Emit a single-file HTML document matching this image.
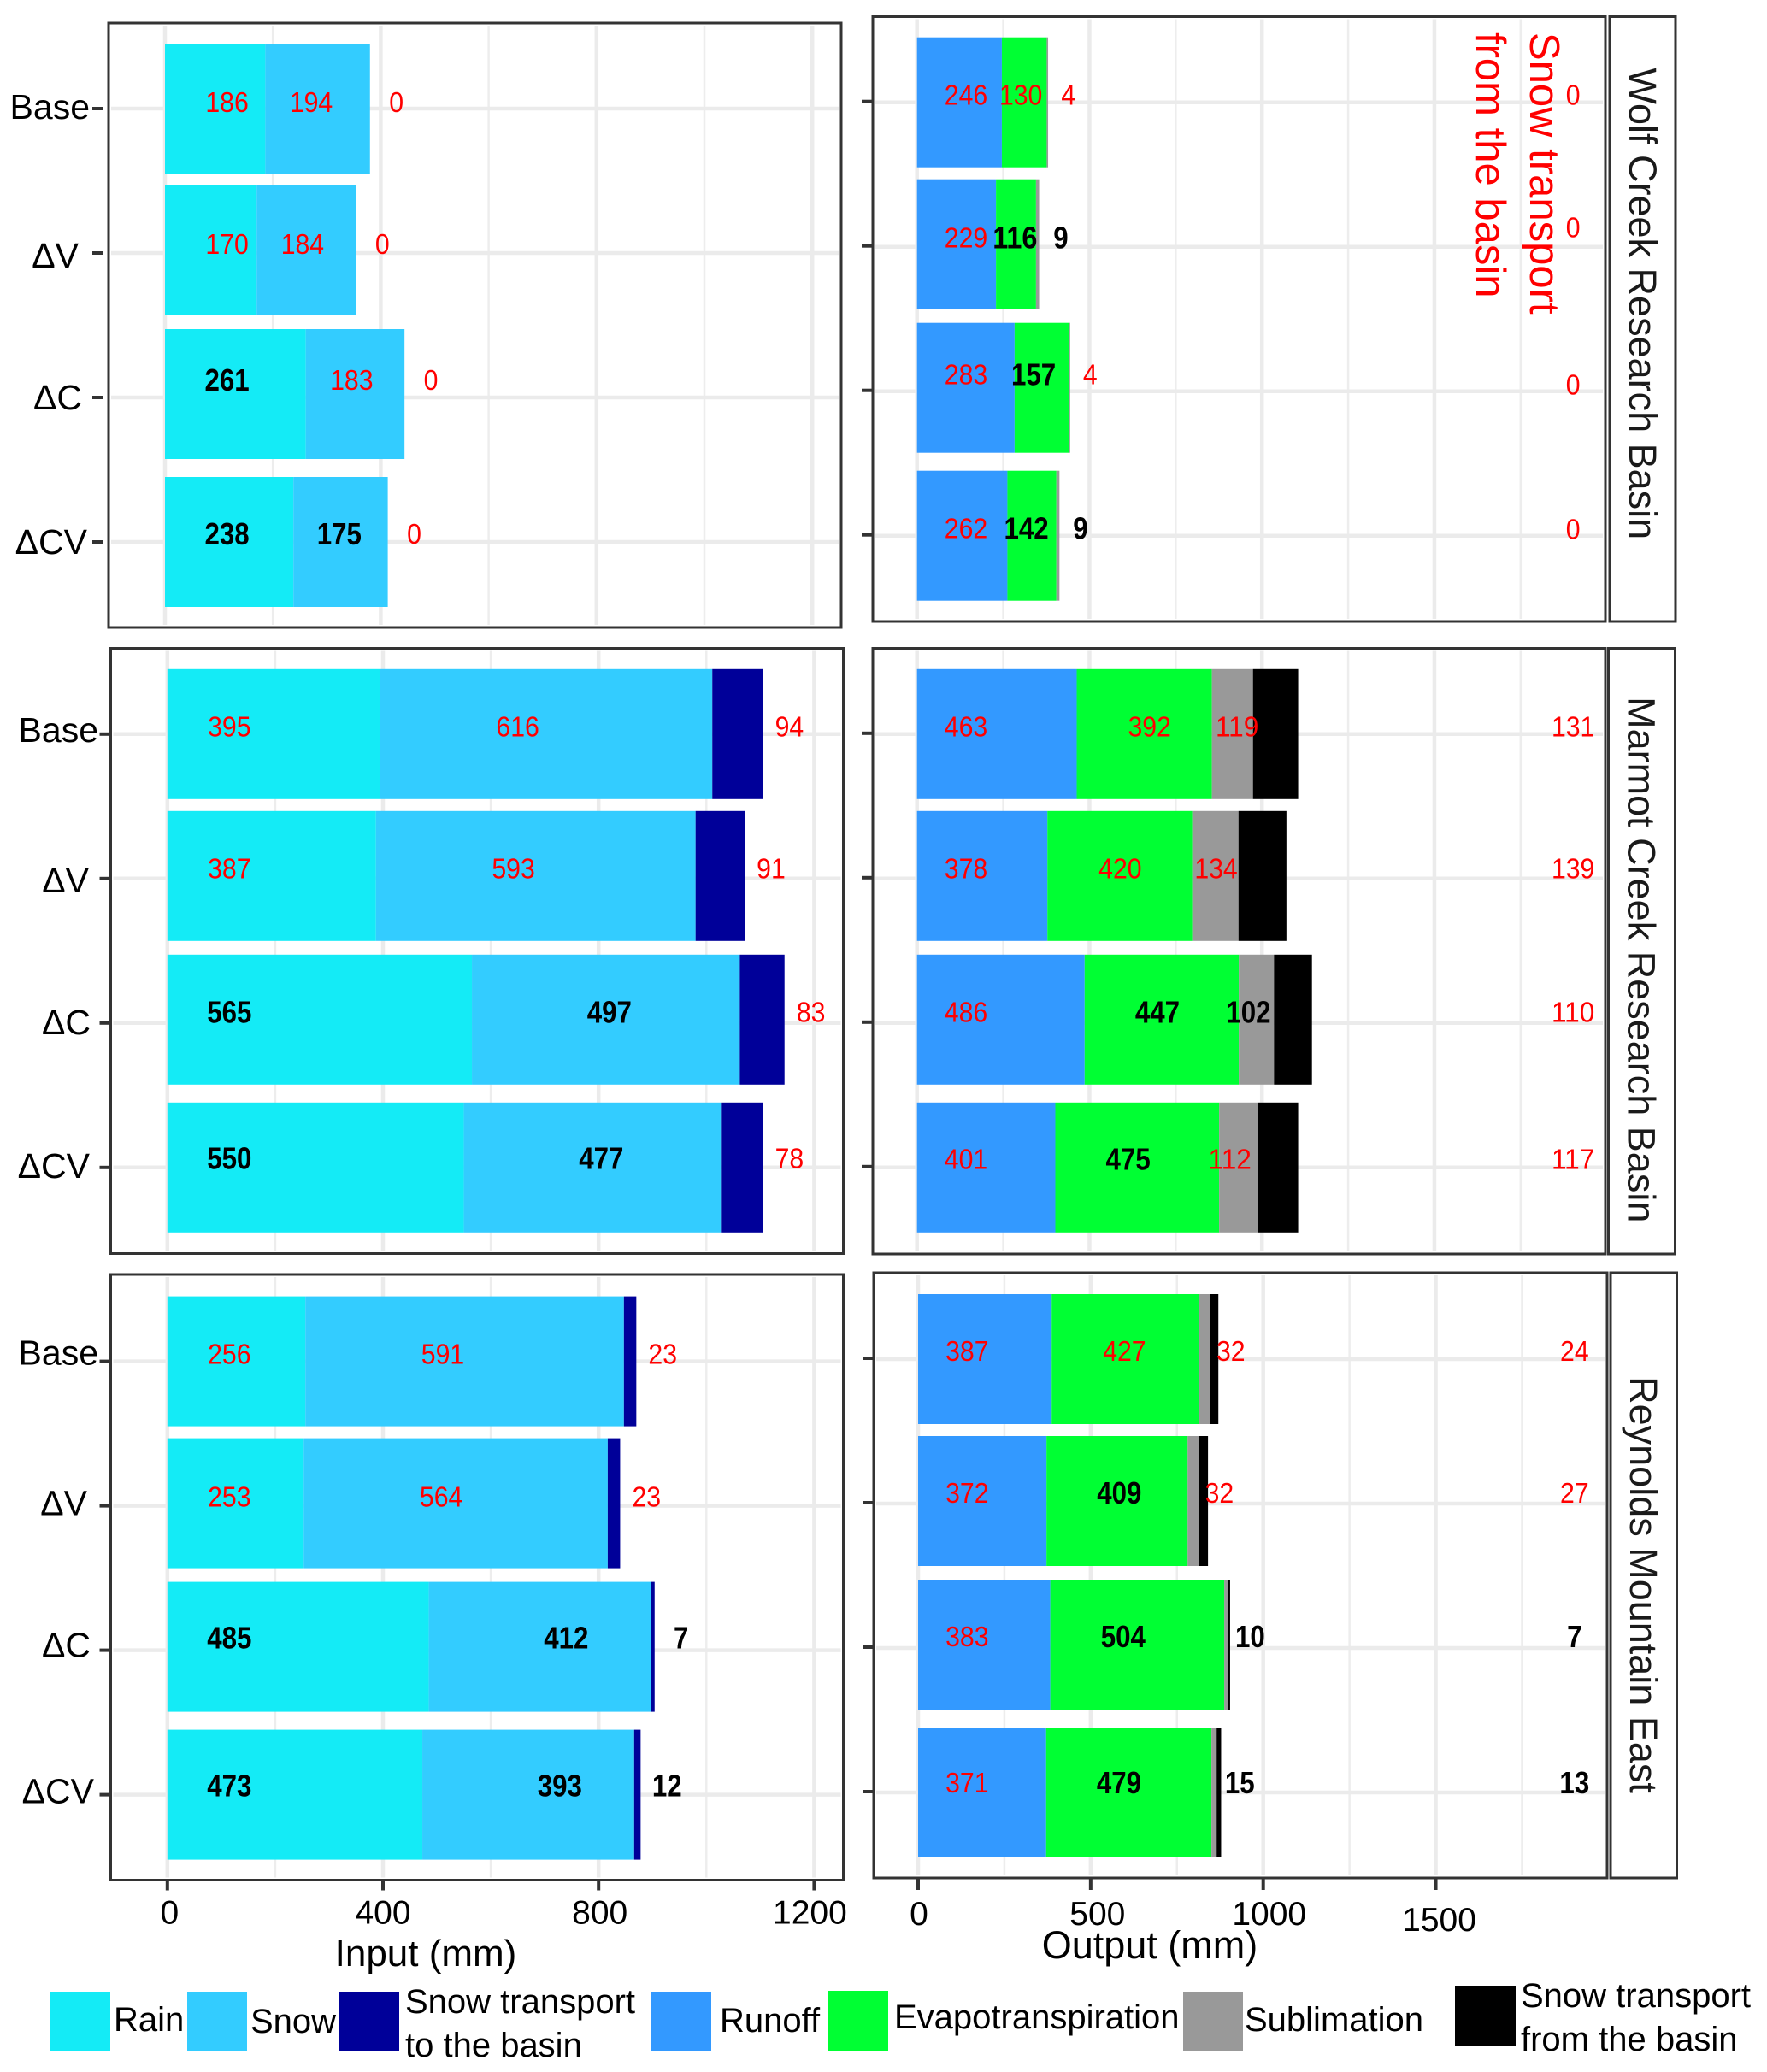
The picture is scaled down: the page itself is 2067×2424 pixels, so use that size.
<!DOCTYPE html>
<html>
<head>
<meta charset="utf-8">
<title>Input and output water balance by basin</title>
<style>
html,body{margin:0;padding:0;background:#fff;}
svg{display:block;}
text{font-family:"Liberation Sans",sans-serif;}
</style>
</head>
<body>
<svg id="chart" xmlns="http://www.w3.org/2000/svg" width="2067" height="2424" viewBox="0 0 2067 2424">
  <rect x="0" y="0" width="2067" height="2424" fill="#fff"/>
  <g id="plots"></g>

  <text x="498" y="2300" font-size="44" text-anchor="middle" fill="#000">Input (mm)</text>
  <text x="1345" y="2291" font-size="45" text-anchor="middle" fill="#000">Output (mm)</text>

  <g fill="#f00" font-size="49">
    <text transform="translate(1790,38) rotate(90)">Snow transport</text>
    <text transform="translate(1727,38) rotate(90)">from the basin</text>
  </g>

  <g font-size="40" fill="#000">
    <g>
      <rect x="59" y="2330" width="70" height="70" fill="#14EBF6"/>
      <text x="133" y="2376">Rain</text>
    </g>
    <g>
      <rect x="219" y="2330" width="70" height="70" fill="#33CCFF"/>
      <text x="293" y="2378">Snow</text>
    </g>
    <g>
      <rect x="397" y="2330" width="70" height="70" fill="#000099"/>
      <text x="474" y="2355">Snow transport</text>
      <text x="474" y="2406">to the basin</text>
    </g>
    <g>
      <rect x="761" y="2330" width="71" height="70" fill="#3399FF"/>
      <text x="842" y="2377">Runoff</text>
    </g>
    <g>
      <rect x="969" y="2329" width="70" height="71" fill="#00FF33"/>
      <text x="1046" y="2373">Evapotranspiration</text>
    </g>
    <g>
      <rect x="1384" y="2330" width="70" height="70" fill="#999999"/>
      <text x="1456" y="2376">Sublimation</text>
    </g>
    <g>
      <rect x="1702" y="2323" width="71" height="71" fill="#000"/>
      <text x="1779" y="2348">Snow transport</text>
      <text x="1779" y="2399">from the basin</text>
    </g>
  </g>
</svg>

<script>
// ---- chart data ----
const scenarios = ['Base', '\u0394V', '\u0394C', '\u0394CV'];
const inputMajorTicks = [0, 400, 800, 1200];
const inputMinorTicks = [200, 600, 1000];
const outputMajorTicks = [0, 500, 1000, 1500];
const outputMinorTicks = [250, 750, 1250, 1750];

const wolfRain = [186, 170, 261, 238];
const wolfSnow = [194, 184, 183, 175];
const wolfTransportIn = [0, 0, 0, 0];
const wolfRunoff = [246, 229, 283, 262];
const wolfEvap = [130, 116, 157, 142];
const wolfSublimation = [4, 9, 4, 9];
const wolfTransportOut = [0, 0, 0, 0];
const wolfInputEmphasis = ['rrr', 'rrr', 'brr', 'bbr'];
const wolfOutputEmphasis = ['rrrr', 'rbbr', 'rbrr', 'rbbr'];

const marmotRain = [395, 387, 565, 550];
const marmotSnow = [616, 593, 497, 477];
const marmotTransportIn = [94, 91, 83, 78];
const marmotRunoff = [463, 378, 486, 401];
const marmotEvap = [392, 420, 447, 475];
const marmotSublimation = [119, 134, 102, 112];
const marmotTransportOut = [131, 139, 110, 117];
const marmotInputEmphasis = ['rrr', 'rrr', 'bbr', 'bbr'];
const marmotOutputEmphasis = ['rrrr', 'rrrr', 'rbbr', 'rbrr'];

const reynoldsRain = [256, 253, 485, 473];
const reynoldsSnow = [591, 564, 412, 393];
const reynoldsTransportIn = [23, 23, 7, 12];
const reynoldsRunoff = [387, 372, 383, 371];
const reynoldsEvap = [427, 409, 504, 479];
const reynoldsSublimation = [32, 32, 10, 15];
const reynoldsTransportOut = [24, 27, 7, 13];
const reynoldsInputEmphasis = ['rrr', 'rrr', 'bbb', 'bbb'];
const reynoldsOutputEmphasis = ['rrrr', 'rbrr', 'rbbb', 'rbbb'];

// ---- appearance ----
const inputColors = ['#14EBF6', '#33CCFF', '#000099'];
const outputColors = ['#3399FF', '#00FF33', '#999999', '#000000'];
const inputNames = ['rain', 'snow', 'transport-in'];
const outputNames = ['runoff', 'evapotranspiration', 'sublimation', 'transport-out'];

const NS = 'http://www.w3.org/2000/svg';
const root = document.getElementById('plots');

function rect(parent, name, x, y, w, h, fill, stroke, sw) {
  const el = document.createElementNS(NS, 'rect');
  
  
  el.setAttribute('x', x);
  el.setAttribute('y', y);
  el.setAttribute('width', Math.max(w, 0));
  el.setAttribute('height', h);
  el.setAttribute('fill', fill);
  if (stroke) {
    el.setAttribute('stroke', stroke);
    el.setAttribute('stroke-width', sw);
  }
  parent.appendChild(el);
  return el;
}
function line(parent, name, x1, y1, x2, y2, color, w) {
  const el = document.createElementNS(NS, 'line');
  
  
  el.setAttribute('x1', x1);
  el.setAttribute('y1', y1);
  el.setAttribute('x2', x2);
  el.setAttribute('y2', y2);
  el.setAttribute('stroke', color);
  el.setAttribute('stroke-width', w);
  parent.appendChild(el);
  return el;
}
function label(parent, name, str, x, y, size, anchor, fill, weight) {
  const el = document.createElementNS(NS, 'text');
  
  
  el.setAttribute('x', x);
  el.setAttribute('y', y);
  el.setAttribute('font-size', size);
  el.setAttribute('text-anchor', anchor);
  el.setAttribute('fill', fill);
  if (weight) el.setAttribute('font-weight', weight);
  el.textContent = str;
  parent.appendChild(el);
  return el;
}
function valueLabel(parent, name, value, x, cy, bold) {
  const s = String(value);
  const size = bold ? 36 : 33;
  const el = label(parent, name, s, x, cy + size * 0.358, size, 'middle', bold ? '#000' : '#f00', bold ? 'bold' : null);
  el.setAttribute('textLength', s.length * (bold ? 17.4 : 16.8));
  el.setAttribute('lengthAdjust', 'spacingAndGlyphs');
  return el;
}

const BAND_STEP = 169;
const BAR_H = 152;
const barShift = [0, -3, -4, 0];

function drawFrame(g, p, major, minor, prefix) {
  const xs = v => p.x0 + v * p.k;
  const ys = i => p.y0 + i * BAND_STEP;
  rect(g, prefix + '-panel-background', p.left, p.top, p.right - p.left, p.bottom - p.top, '#fff');
  minor.forEach(t => {
    line(g, prefix + '-minor-gridline-' + t, xs(t), p.top + 3, xs(t), p.bottom - 3, '#EDEDED', 2.5);
  });
  major.forEach(t => {
    line(g, prefix + '-major-gridline-' + t, xs(t), p.top + 3, xs(t), p.bottom - 3, '#EBEBEB', 4.5);
  });
  scenarios.forEach((s, i) => {
    line(g, prefix + '-horizontal-gridline-' + i, p.left + 3, ys(i), p.right - 3, ys(i), '#EBEBEB', 4.5);
  });
  return { xs, ys };
}
function drawBorder(g, p, prefix) {
  rect(g, prefix + '-panel-border', p.left, p.top, p.right - p.left, p.bottom - p.top, 'none', '#333', 3);
}
function drawStack(g, xs, ys, series, colors, names, prefix) {
  scenarios.forEach((s, i) => {
    let cum = 0;
    series.forEach((vals, k) => {
      const y = ys(i) + barShift[i] - BAR_H / 2;
      rect(g, prefix + '-bar-' + names[k] + '-' + i, xs(cum), y, xs(cum + vals[i]) - xs(cum), BAR_H, colors[k]);
      cum += vals[i];
    });
  });
}

function drawInput(p, rain, snow, trans, emphasis) {
  const prefix = p.prefix;
  const g = document.createElementNS(NS, 'g');
  
  
  root.appendChild(g);
  const { xs, ys } = drawFrame(g, p, inputMajorTicks, inputMinorTicks, prefix);
  drawStack(g, xs, ys, [rain, snow, trans], inputColors, inputNames, prefix);
  scenarios.forEach((s, i) => {
    const cy = ys(i) + p.labelDy[i];
    const e = emphasis[i];
    valueLabel(g, prefix + '-label-rain-' + i, rain[i], xs(115), cy, e[0] === 'b');
    valueLabel(g, prefix + '-label-snow-' + i, snow[i], xs(rain[i] + p.midOffset), cy, e[1] === 'b');
    valueLabel(g, prefix + '-label-transport-in-' + i, trans[i], xs(rain[i] + snow[i] + trans[i] + 49), cy, e[2] === 'b');
    line(g, prefix + '-y-tick-' + i, p.left - p.tickGap - 13, ys(i), p.left - p.tickGap, ys(i), '#333', 4);
    label(g, prefix + '-y-tick-label-' + i, s, p.catRight[i], ys(i) + p.catDy[i] + 14, 41, 'end', '#000');
  });
  drawBorder(g, p, prefix);
  if (p.showAxis) {
    inputMajorTicks.forEach((t, k) => {
      line(g, prefix + '-x-tick-' + t, xs(t), p.bottom, xs(t), p.bottom + 12, '#333', 4);
      label(g, prefix + '-x-tick-label-' + t, String(t), xs(t) + p.tickNudge[k], p.bottom + 51, 39, 'middle', '#000');
    });
  }
}

function drawOutput(p, runoff, evap, subl, trans, emphasis, strip) {
  const prefix = p.prefix;
  const g = document.createElementNS(NS, 'g');
  
  
  root.appendChild(g);
  const { xs, ys } = drawFrame(g, p, outputMajorTicks, outputMinorTicks, prefix);
  drawStack(g, xs, ys, [runoff, evap, subl, trans], outputColors, outputNames, prefix);
  scenarios.forEach((s, i) => {
    const cy = ys(i) + p.labelDy[i];
    const e = emphasis[i];
    valueLabel(g, prefix + '-label-runoff-' + i, runoff[i], xs(142), cy, e[0] === 'b');
    valueLabel(g, prefix + '-label-evapotranspiration-' + i, evap[i], xs(runoff[i] + p.midOffset), cy, e[1] === 'b');
    valueLabel(g, prefix + '-label-sublimation-' + i, subl[i], xs(runoff[i] + evap[i] + p.sublNudge[i]), cy, e[2] === 'b');
    valueLabel(g, prefix + '-label-transport-out-' + i, trans[i], xs(1902), ys(i) + p.outDy[i], e[3] === 'b');
    line(g, prefix + '-y-tick-' + i, p.left - 13, ys(i) - 1, p.left, ys(i) - 1, '#333', 4);
  });
  drawBorder(g, p, prefix);
  rect(g, prefix + '-strip', p.stripLeft, p.top, p.stripRight - p.stripLeft, p.bottom - p.top, '#fff', '#333', 3);
  const t = label(g, prefix + '-strip-label', strip, 0, 0, 45, 'middle', '#1a1a1a');
  t.setAttribute('x', 0);
  t.setAttribute('y', 0);
  t.setAttribute('transform', 'translate(' + (p.stripLeft + 23) + ',' + ((p.top + p.bottom) / 2 + p.stripDy) + ') rotate(90)');
  if (p.showAxis) {
    outputMajorTicks.forEach((v, k) => {
      line(g, prefix + '-x-tick-' + v, xs(v), p.bottom, xs(v), p.bottom + 14, '#333', 4);
      label(g, prefix + '-x-tick-label-' + v, String(v), xs(v) + p.tickNudge[k], p.bottom + p.tickDy[k], 39, 'middle', '#000');
    });
  }
}

drawInput({ prefix: 'wolf', left: 127, right: 984, top: 27, bottom: 734, x0: 193, k: 0.631, y0: 127,
  labelDy: [-8, -11, -21, -10], midOffset: 85, tickGap: 6,
  catRight: [105, 92, 96, 102], catDy: [-2, 3, 0, 0], showAxis: false },
  wolfRain, wolfSnow, wolfTransportIn, wolfInputEmphasis);

drawInput({ prefix: 'marmot', left: 129.5, right: 986.5, top: 758.5, bottom: 1466.5, x0: 195.8, k: 0.6305, y0: 858.8,
  labelDy: [-9, -12, -13, -11], midOffset: 255, tickGap: 0,
  catRight: [115, 104, 106, 105], catDy: [-5, 2, -1, -2], showAxis: false },
  marmotRain, marmotSnow, marmotTransportIn, marmotInputEmphasis);

drawInput({ prefix: 'reynolds', left: 129.5, right: 986.5, top: 1491, bottom: 2199.5, x0: 195.8, k: 0.6305, y0: 1592.6,
  labelDy: [-9, -11, -15, -11], midOffset: 255, tickGap: 0,
  catRight: [115, 102, 106, 110], catDy: [-10, -3, -6, -4], showAxis: true, tickNudge: [2.5, 0, 1.5, -5] },
  reynoldsRain, reynoldsSnow, reynoldsTransportIn, reynoldsInputEmphasis);

drawOutput({ prefix: 'wolf', left: 1021, right: 1878, top: 19.5, bottom: 727, stripLeft: 1883, stripRight: 1960, x0: 1072.7, k: 0.4035, y0: 119.7,
  labelDy: [-9, -11, -20, -9], outDy: [-9, -23, -8, -8], midOffset: 55, sublNudge: [63, 72, 62, 70], stripDy: -18, showAxis: false },
  wolfRunoff, wolfEvap, wolfSublimation, wolfTransportOut, wolfOutputEmphasis, 'Wolf Creek Research Basin');

drawOutput({ prefix: 'marmot', left: 1021, right: 1878, top: 758.5, bottom: 1467, stripLeft: 1881.5, stripRight: 1959.5, x0: 1072.7, k: 0.4035, y0: 858.8,
  labelDy: [-9, -12, -13, -10], outDy: [-9, -12, -13, -10], midOffset: 211, sublNudge: [73, 69, 28, 31], stripDy: 10, showAxis: false },
  marmotRunoff, marmotEvap, marmotSublimation, marmotTransportOut, marmotOutputEmphasis, 'Marmot Creek Research Basin');

drawOutput({ prefix: 'reynolds', left: 1022, right: 1880, top: 1489, bottom: 2197, stripLeft: 1884, stripRight: 1961.5, x0: 1074, k: 0.4037, y0: 1590,
  labelDy: [-10, -13, -14, -12], outDy: [-10, -13, -14, -12], midOffset: 211, sublNudge: [92, 92, 75, 82], stripDy: 11, showAxis: true,
  tickNudge: [1, 8, 7, 4], tickDy: [55, 55, 55, 62] },
  reynoldsRunoff, reynoldsEvap, reynoldsSublimation, reynoldsTransportOut, reynoldsOutputEmphasis, 'Reynolds Mountain East');
</script>
</body>
</html>
